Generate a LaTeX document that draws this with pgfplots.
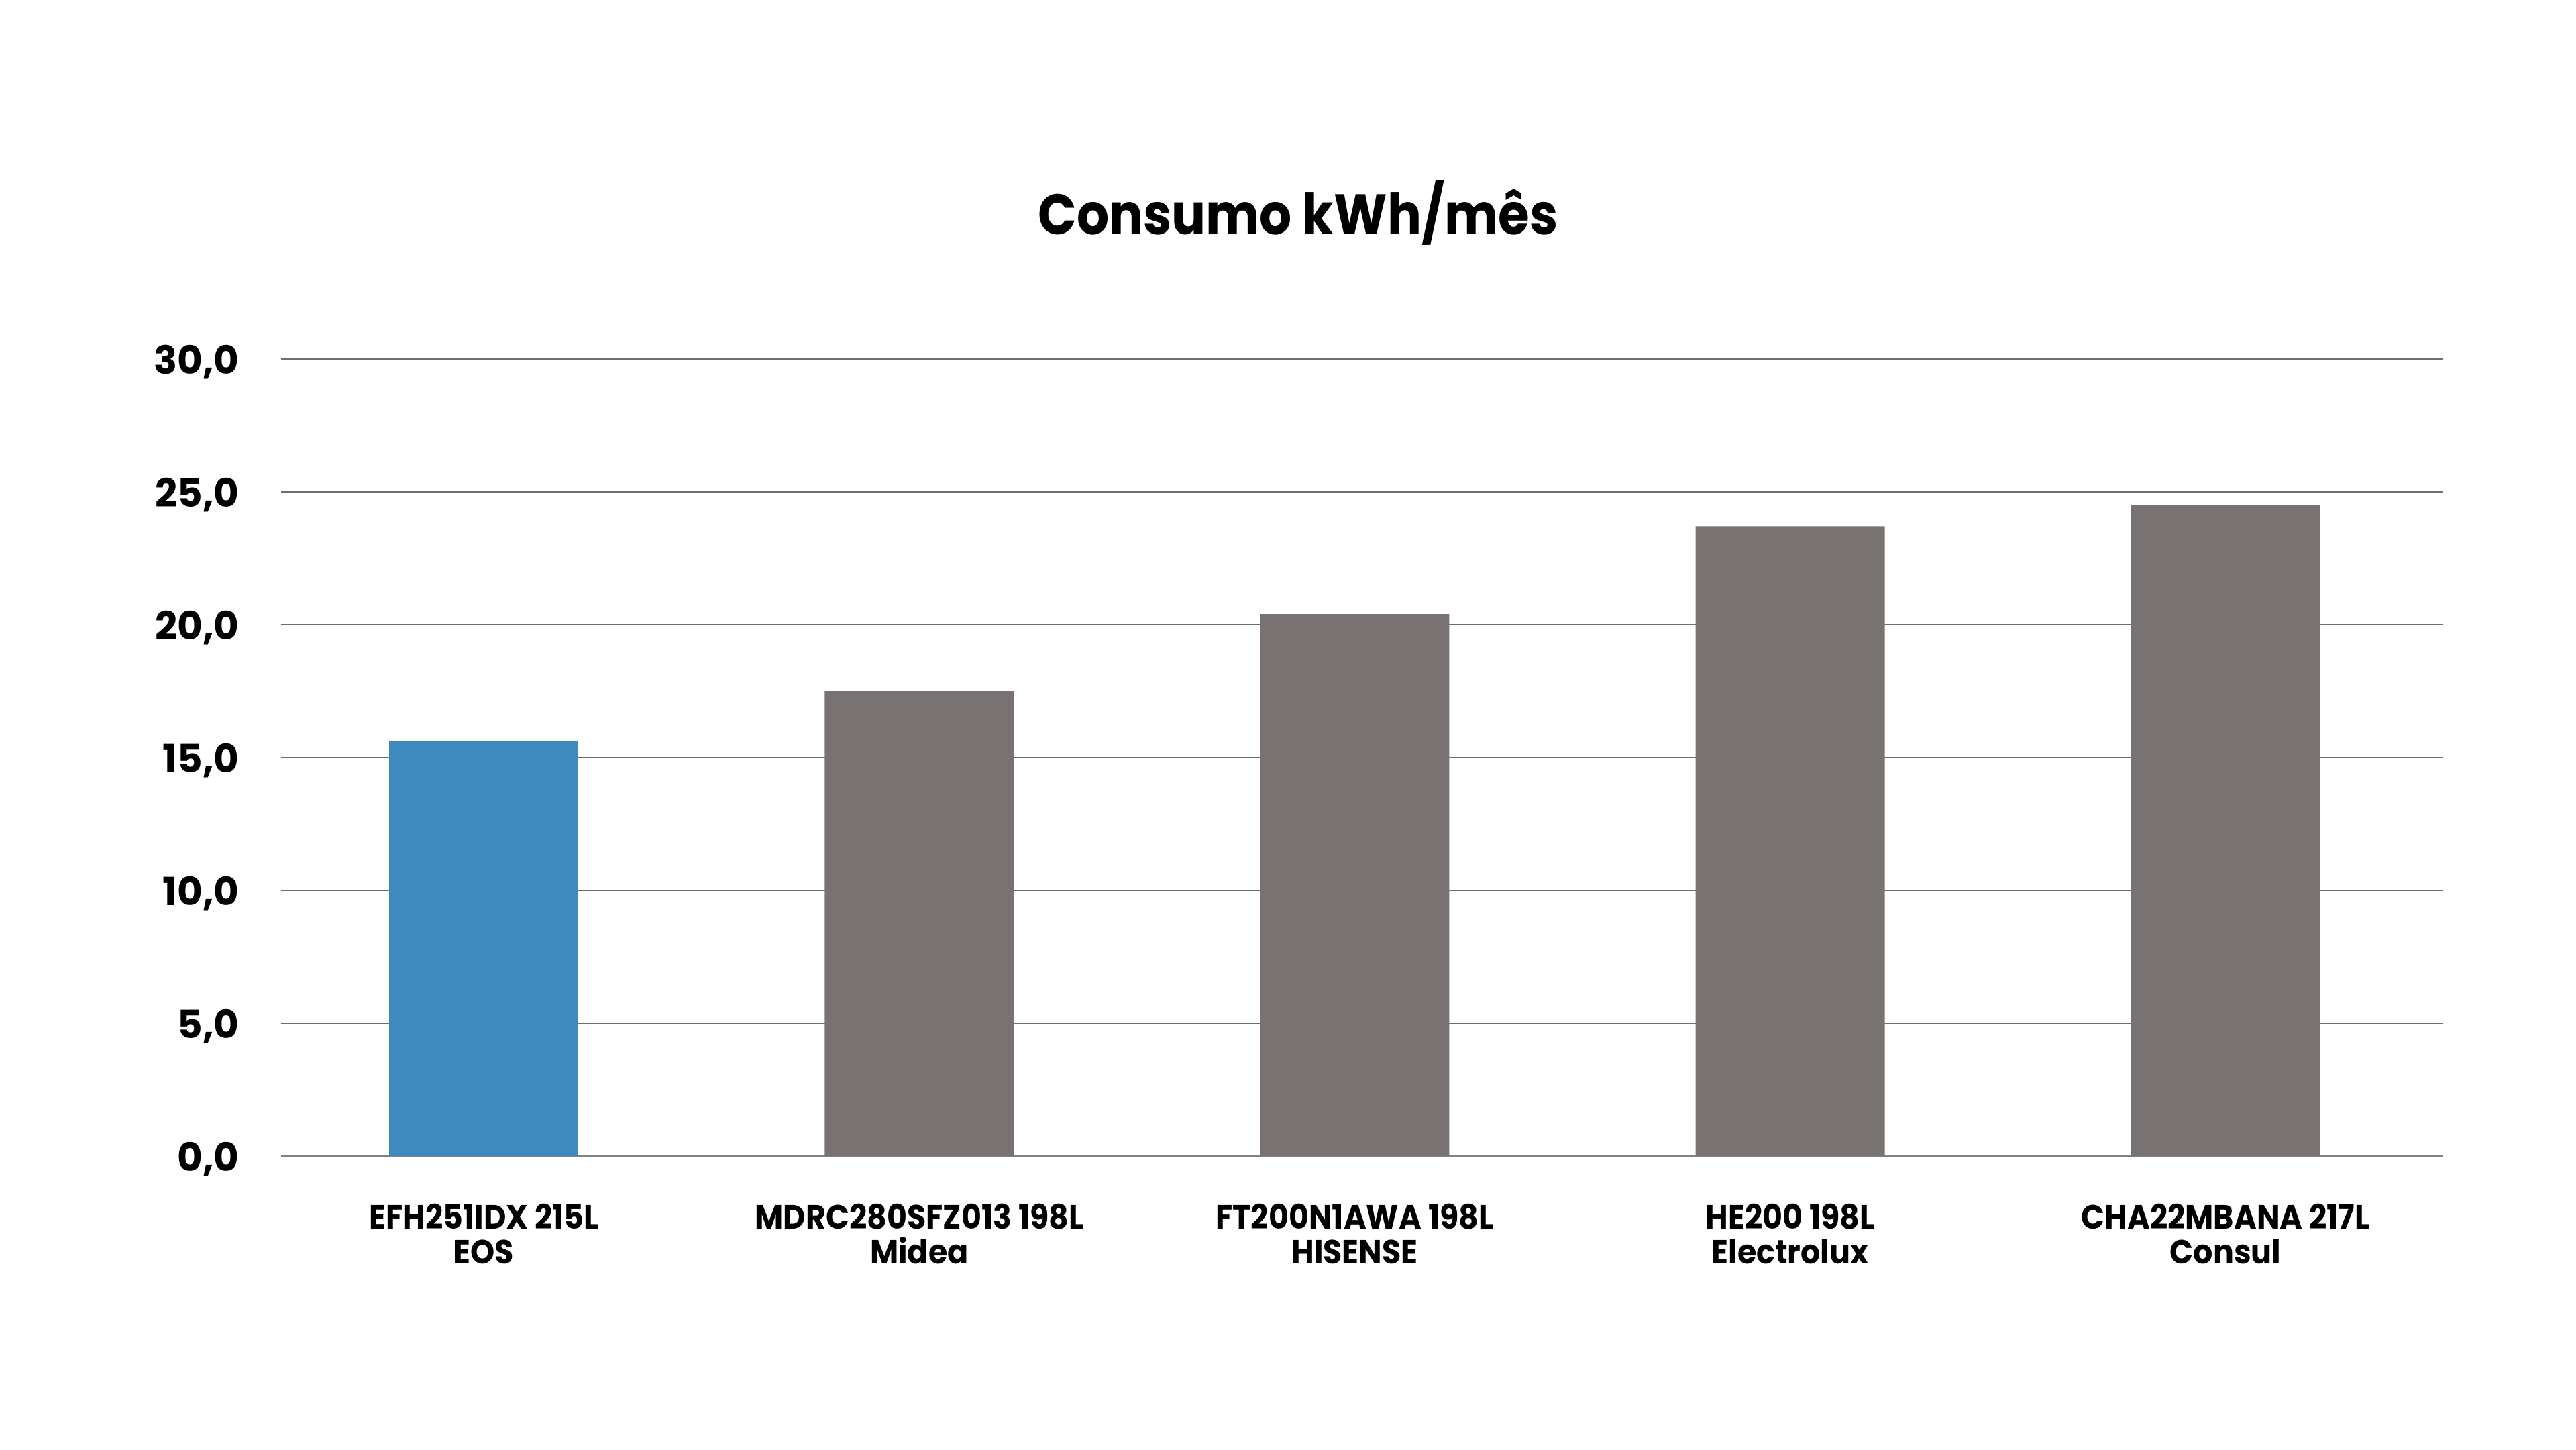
\documentclass[border=0pt]{standalone}
\usepackage{fontspec}
\setmainfont{Poppins}
\newfontfamily\narrowfont{Poppins}[FakeStretch=0.92]
\newfontfamily\titlefont{Poppins}[FakeStretch=0.89]
\usepackage{pgfplots}
\pgfplotsset{compat=1.18}
\definecolor{eosblue}{RGB}{62,137,190}
\definecolor{bargrey}{RGB}{120,115,114}
\definecolor{gridgrey}{RGB}{110,110,110}
\definecolor{axisgrey}{RGB}{130,130,130}
\begin{document}
\begin{tikzpicture}
\path[use as bounding box] (0,0) rectangle (768pt,432pt);
\node[font=\titlefont\bfseries\fontsize{17}{20}\selectfont, anchor=base] at (387pt,362pt) {Consumo kWh/mês};
\begin{axis}[
  at={(83.8pt,87.4pt)}, anchor=south west,
  scale only axis, width=644.6pt, height=237.6pt,
  xmin=-0.466, xmax=4.5, ymin=0, ymax=30,
  ytick={0,5,10,15,20,25,30},
  xtick={0,1,2,3,4},
  xticklabels={{EFH251IDX 215L\\EOS},{MDRC280SFZ013 198L\\Midea},{FT200N1AWA 198L\\HISENSE},{HE200 198L\\Electrolux},{CHA22MBANA 217L\\Consul}},
  major tick length=0pt,
  axis x line*=bottom, axis y line*=left,
  x axis line style={draw=axisgrey, line width=0.45pt, -},
  y axis line style={draw=none},
  ymajorgrids, grid style={draw=gridgrey, line width=0.3pt},
  /pgf/number format/.cd, fixed, fixed zerofill, precision=1, use comma, assume math mode=true,
  /pgfplots/.cd,
  yticklabel style={font=\bfseries\fontsize{11.6}{14}\selectfont, anchor=base east, inner sep=0pt, xshift=-12.3pt, yshift=-4.4pt},
  xticklabel style={font=\narrowfont\bfseries\fontsize{10}{10.4}\selectfont, align=center, anchor=north, inner sep=0pt, yshift=-14pt},
  ybar, bar width=56.4pt, bar shift=0pt,
]
\addplot[fill=eosblue, draw=none] coordinates {(0,15.6)};
\addplot[fill=bargrey, draw=none] coordinates {(1,17.5) (2,20.4) (3,23.7) (4,24.5)};
\end{axis}
\end{tikzpicture}
\end{document}
